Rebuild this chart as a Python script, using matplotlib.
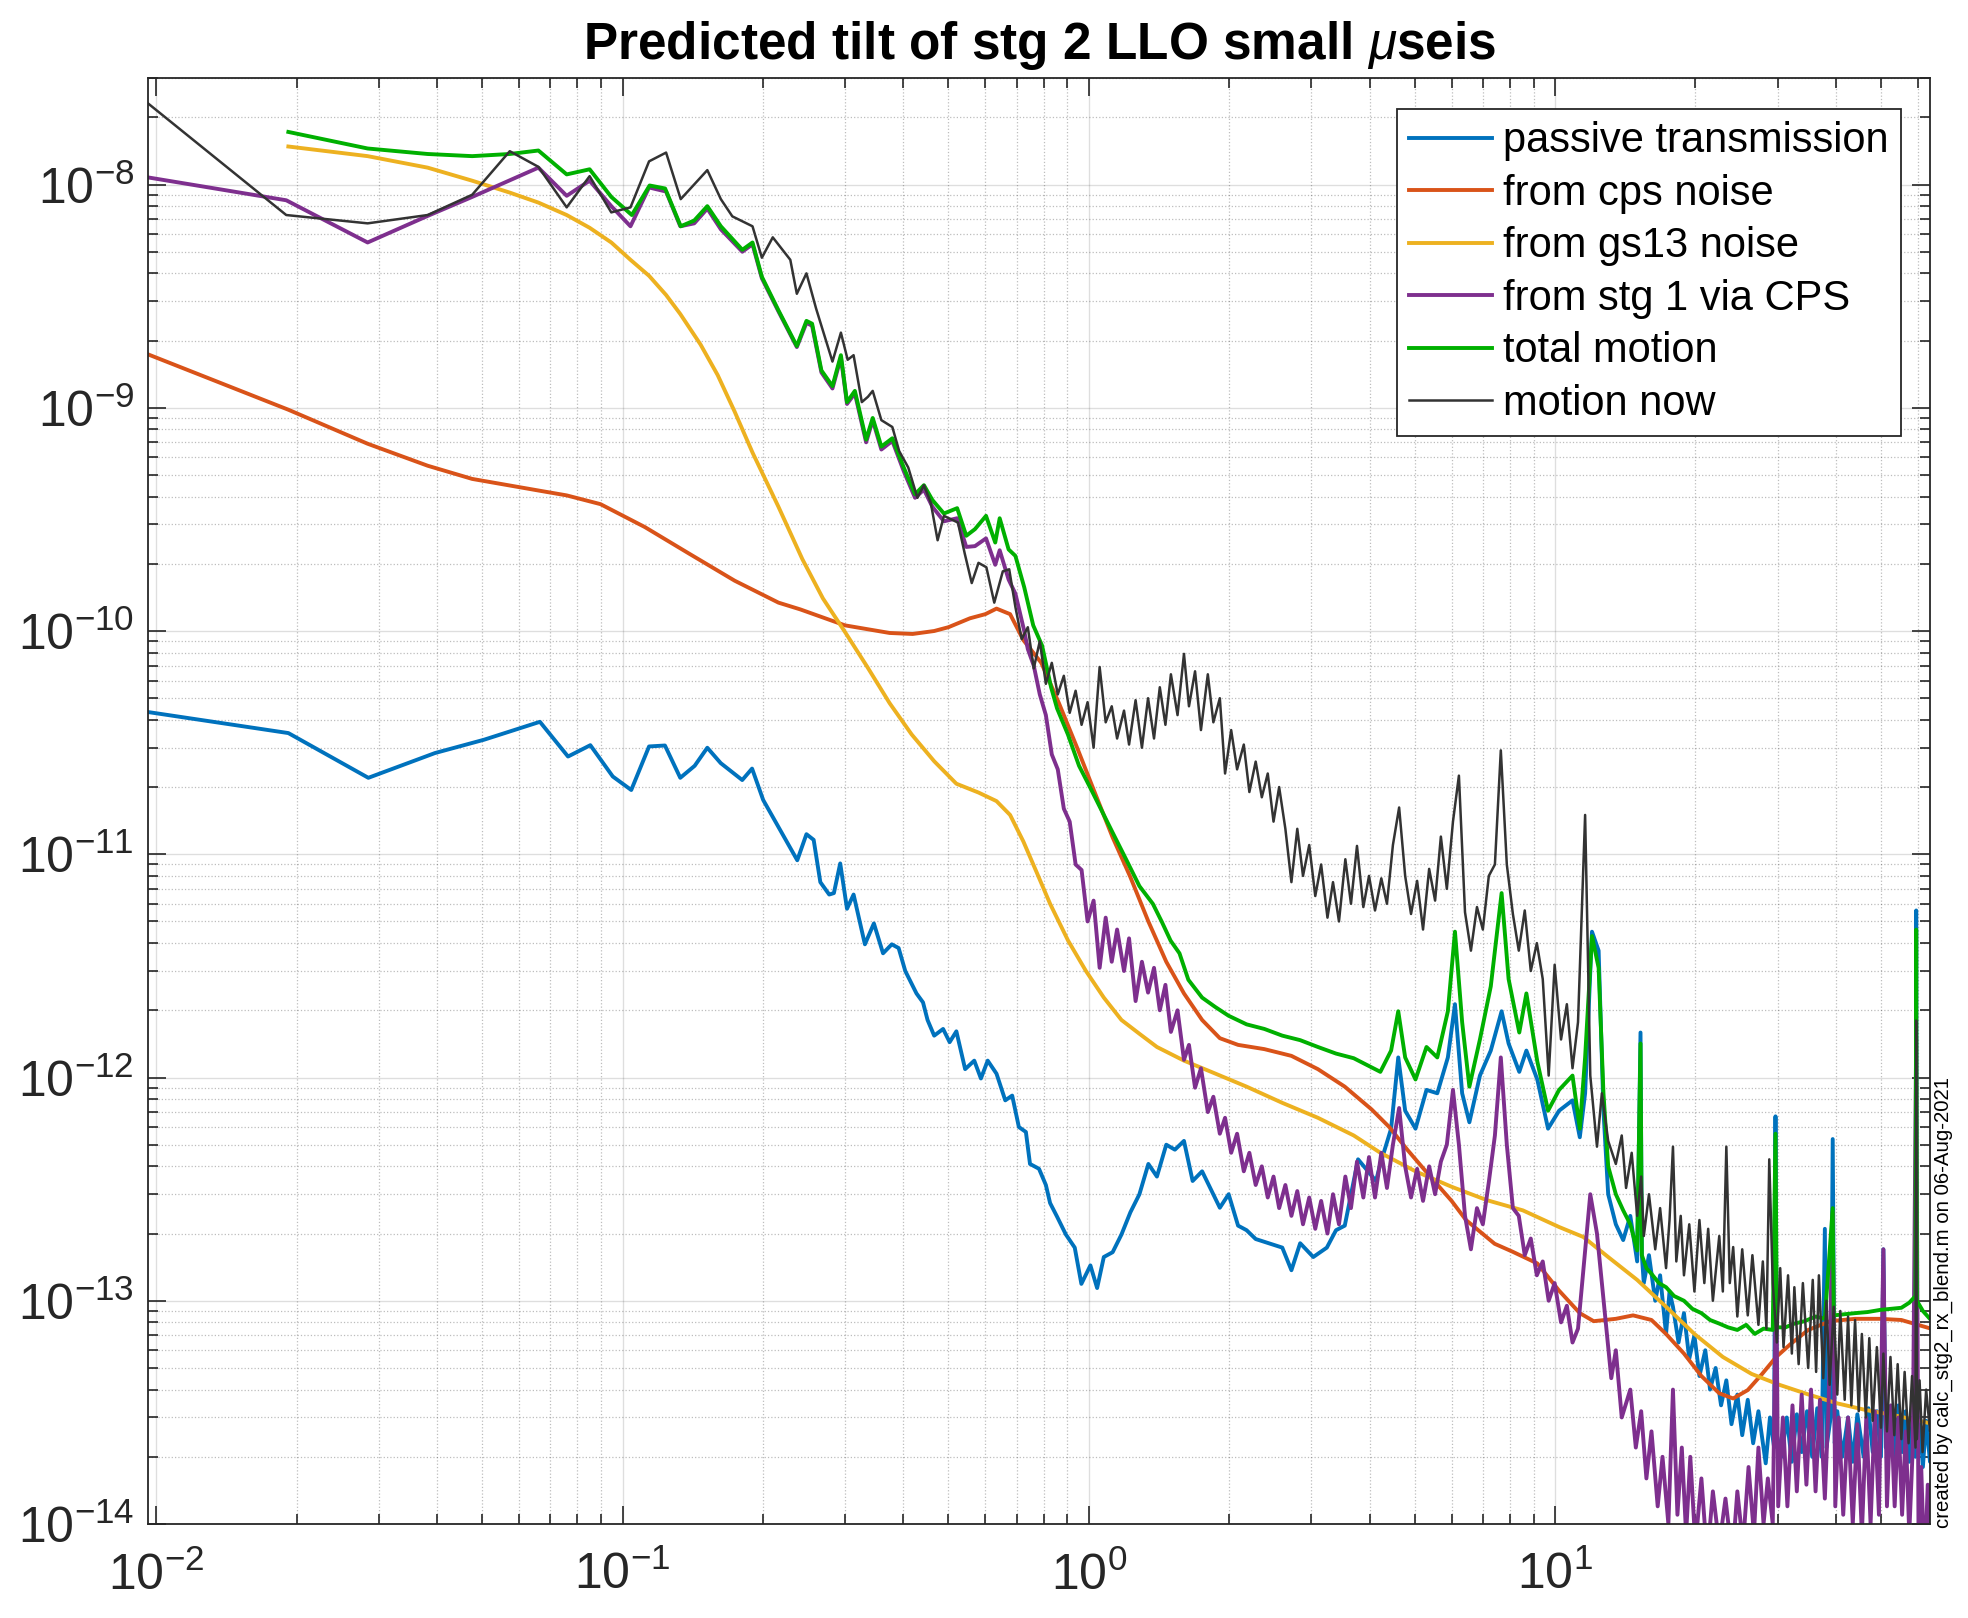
import numpy as np
import matplotlib
matplotlib.use("Agg")
import matplotlib.pyplot as plt
from matplotlib.ticker import LogLocator, LogFormatterMathtext, NullFormatter

plt.rcParams["font.family"] = ["Liberation Sans", "DejaVu Sans"]
plt.rcParams["mathtext.fontset"] = "custom"
plt.rcParams["mathtext.rm"] = "Liberation Sans"
plt.rcParams["mathtext.it"] = "Liberation Sans:italic"
plt.rcParams["mathtext.bf"] = "Liberation Sans:bold"

# ---- data (frequency in Hz, tilt amplitude) ----
passive_f = [
    0.0095, 0.0192, 0.0285, 0.0396, 0.0505, 0.0665, 0.0764, 0.0853, 0.0953, 0.1044,
    0.114, 0.1233, 0.133, 0.1428, 0.152, 0.1624, 0.1806, 0.1896, 0.2003, 0.237,
    0.248, 0.257, 0.2656, 0.2775, 0.284, 0.293, 0.303, 0.313, 0.331, 0.346,
    0.362, 0.378, 0.391, 0.404, 0.427, 0.441, 0.451, 0.466, 0.487, 0.503,
    0.52, 0.543, 0.568, 0.587, 0.607, 0.634, 0.662, 0.685, 0.708, 0.733,
    0.748, 0.782, 0.809, 0.826, 0.855, 0.893, 0.933, 0.964, 1.008, 1.042,
    1.077, 1.125, 1.175, 1.228, 1.284, 1.342, 1.40, 1.466, 1.53, 1.6,
    1.67, 1.75, 1.83, 1.91, 1.995, 2.09, 2.18, 2.28, 2.43, 2.6,
    2.72, 2.84, 3.03, 3.24, 3.39, 3.54, 3.78, 4.13, 4.22, 4.45,
    4.61, 4.77, 5.02, 5.3, 5.59, 5.89, 6.1, 6.32, 6.55, 6.9,
    7.28, 7.68, 7.95, 8.38, 8.68, 9.16, 9.66, 10.2, 10.9, 11.3,
    11.6, 12.0, 12.4, 12.7,
    13.0, 13.5, 14.0, 14.5, 15.0, 15.25, 15.35, 15.5, 15.9, 16.4,
    16.8, 17.3, 17.6, 17.9, 18.4, 18.9, 19.4, 19.9, 20.4, 21.0,
    21.5, 22.1, 22.7, 23.3, 23.9, 24.6, 25.2, 25.9, 26.6, 27.3,
    28.3, 28.9, 29.5, 29.7, 29.9, 30.6, 31.4, 32.2, 33.0, 33.8,
    34.7, 35.6, 36.5, 37.3, 37.9, 38.2, 39.0, 39.4, 39.8, 40.3,
    41.3, 42.5, 43.5, 44.5, 45.9, 47.0, 48.0, 49.0, 50.0, 50.6,
    51.2, 52.5, 53.5, 54.5, 55.5, 56.5, 57.5, 58.5, 59.3, 59.5,
    59.7, 60.5, 61.5, 62.5, 63.7, 64.0,
]
passive_v = [
    4.35e-11, 3.49e-11, 2.2e-11, 2.84e-11, 3.26e-11, 3.92e-11, 2.74e-11, 3.08e-11, 2.23e-11, 1.94e-11,
    3.04e-11, 3.07e-11, 2.2e-11, 2.49e-11, 3.0e-11, 2.56e-11, 2.15e-11, 2.42e-11, 1.75e-11, 9.4e-12,
    1.23e-11, 1.16e-11, 7.5e-12, 6.6e-12, 6.7e-12, 9.1e-12, 5.7e-12, 6.6e-12, 3.95e-12, 4.9e-12,
    3.6e-12, 3.95e-12, 3.8e-12, 3.0e-12, 2.38e-12, 2.17e-12, 1.81e-12, 1.54e-12, 1.65e-12, 1.44e-12,
    1.61e-12, 1.09e-12, 1.19e-12, 9.9e-13, 1.19e-12, 1.04e-12, 7.9e-13, 8.3e-13, 6.0e-13, 5.7e-13,
    4.1e-13, 3.9e-13, 3.3e-13, 2.74e-13, 2.38e-13, 1.98e-13, 1.73e-13, 1.19e-13, 1.44e-13, 1.14e-13,
    1.57e-13, 1.65e-13, 1.98e-13, 2.49e-13, 3.0e-13, 4.1e-13, 3.6e-13, 5.0e-13, 4.75e-13, 5.2e-13,
    3.44e-13, 3.8e-13, 3.14e-13, 2.61e-13, 3.0e-13, 2.17e-13, 2.07e-13, 1.89e-13, 1.81e-13, 1.73e-13,
    1.37e-13, 1.81e-13, 1.57e-13, 1.73e-13, 2.07e-13, 2.17e-13, 4.3e-13, 3.44e-13, 4.1e-13, 5.9e-13,
    1.23e-12, 7.1e-13, 5.9e-13, 8.8e-13, 8.5e-13, 1.23e-12, 2.13e-12, 8.5e-13, 6.3e-13, 1.02e-12,
    1.32e-12, 1.98e-12, 1.42e-12, 1.06e-12, 1.32e-12, 9.8e-13, 5.9e-13, 7.1e-13, 7.9e-13, 5.4e-13,
    8.5e-13, 4.5e-12, 3.7e-12, 7.1e-13,
    3.0e-13, 2.2e-13, 1.87e-13, 2.4e-13, 1.5e-13, 1.59e-12, 1.6e-13, 1.2e-13, 1.6e-13, 1.0e-13,
    1.3e-13, 7.1e-14, 1.1e-13, 9.4e-14, 6.5e-14, 8.8e-14, 5.5e-14, 7.0e-14, 4.6e-14, 6.0e-14,
    4.0e-14, 5.0e-14, 3.4e-14, 4.4e-14, 2.8e-14, 3.8e-14, 2.5e-14, 3.6e-14, 2.3e-14, 3.2e-14,
    1.87e-14, 3.0e-14, 2.2e-14, 6.7e-13, 2.5e-14, 2.0e-14, 3.0e-14, 1.9e-14, 3.1e-14, 2.1e-14,
    3.2e-14, 2.0e-14, 3.3e-14, 2.0e-14, 2.1e-13, 2.2e-14, 3.0e-14, 5.3e-13, 2.3e-14, 3.2e-14,
    2.0e-14, 3.0e-14, 1.9e-14, 3.1e-14, 2.0e-14, 3.3e-14, 2.1e-14, 3.2e-14, 2.0e-14, 1.7e-13,
    2.2e-14, 3.3e-14, 2.0e-14, 3.4e-14, 2.1e-14, 3.2e-14, 1.9e-14, 3.0e-14, 2.0e-14, 5.6e-12,
    2.1e-14, 3.0e-14, 1.8e-14, 2.9e-14, 1.9e-14, 2.5e-14,
]

cps_f = [
    0.0095, 0.0192, 0.0284, 0.0382, 0.0476, 0.066, 0.0759, 0.0897, 0.1117, 0.139,
    0.174, 0.216, 0.2405, 0.30, 0.374, 0.419, 0.466, 0.50, 0.556, 0.60,
    0.634, 0.678, 0.724, 0.791, 0.863, 0.944, 1.03, 1.125, 1.228, 1.342,
    1.466, 1.6, 1.75, 1.91, 2.09, 2.38, 2.72, 3.1, 3.54, 4.04,
    4.41, 4.82, 5.4, 6.0, 6.44, 7.42, 8.1, 9.16, 10.2, 11.3,
    12.1, 13.5, 14.7, 16.1, 17.3, 18.9, 20.6, 22.5, 24.1, 25.9,
    27.8, 29.8, 32.0, 34.9, 38.9, 44.0, 49.8, 55.3, 64.0,
]
cps_v = [
    1.75e-9, 9.8e-10, 6.9e-10, 5.5e-10, 4.8e-10, 4.26e-10, 4.05e-10, 3.7e-10, 2.92e-10, 2.22e-10,
    1.68e-10, 1.34e-10, 1.25e-10, 1.06e-10, 9.8e-11, 9.7e-11, 1.0e-10, 1.04e-10, 1.14e-10, 1.19e-10,
    1.26e-10, 1.19e-10, 9.1e-11, 7.2e-11, 4.75e-11, 3.0e-11, 1.89e-11, 1.19e-11, 7.9e-12, 5.0e-12,
    3.3e-12, 2.38e-12, 1.81e-12, 1.5e-12, 1.4e-12, 1.34e-12, 1.25e-12, 1.09e-12, 9.1e-13, 7.2e-13,
    6.0e-13, 4.75e-13, 3.6e-13, 2.8e-13, 2.3e-13, 1.8e-13, 1.66e-13, 1.47e-13, 1.11e-13, 8.8e-14,
    8.1e-14, 8.3e-14, 8.6e-14, 8.2e-14, 7.1e-14, 5.8e-14, 4.6e-14, 3.85e-14, 3.65e-14, 3.98e-14,
    4.7e-14, 5.6e-14, 6.4e-14, 7.4e-14, 8.1e-14, 8.3e-14, 8.3e-14, 8.2e-14, 7.5e-14,
]

gs13_f = [
    0.0192, 0.0284, 0.0382, 0.0476, 0.0573, 0.066, 0.0759, 0.085, 0.0946, 0.104,
    0.114, 0.124, 0.133, 0.147, 0.16, 0.174, 0.19, 0.216, 0.243, 0.269,
    0.30, 0.335, 0.374, 0.417, 0.466, 0.52, 0.58, 0.634, 0.678, 0.724,
    0.773, 0.826, 0.903, 0.986, 1.077, 1.175, 1.284, 1.40, 1.6, 1.83,
    2.18, 2.6, 3.1, 3.7, 4.22, 5.02, 6.0, 7.15, 8.53, 10.2,
    11.5, 13.0, 15.0, 17.3, 19.9, 22.9, 26.4, 30.3, 35.0, 40.3,
    46.4, 53.4, 64.0,
]
gs13_v = [
    1.48e-8, 1.34e-8, 1.19e-8, 1.04e-8, 9.2e-9, 8.3e-9, 7.3e-9, 6.4e-9, 5.5e-9, 4.6e-9,
    3.9e-9, 3.2e-9, 2.63e-9, 1.92e-9, 1.4e-9, 9.6e-10, 6.3e-10, 3.6e-10, 2.1e-10, 1.4e-10,
    9.9e-11, 6.9e-11, 4.75e-11, 3.44e-11, 2.61e-11, 2.07e-11, 1.89e-11, 1.73e-11, 1.5e-11, 1.14e-11,
    8.3e-12, 6.0e-12, 4.1e-12, 3.0e-12, 2.28e-12, 1.81e-12, 1.57e-12, 1.37e-12, 1.19e-12, 1.06e-12,
    9.1e-13, 7.7e-13, 6.6e-13, 5.5e-13, 4.6e-13, 3.8e-13, 3.24e-13, 2.82e-13, 2.54e-13, 2.14e-13,
    1.93e-13, 1.57e-13, 1.24e-13, 9.4e-14, 7.1e-14, 5.6e-14, 4.7e-14, 4.2e-14, 3.8e-14, 3.47e-14,
    3.24e-14, 3.07e-14, 2.82e-14,
]

# shared mid-band frequency grid for the densely sampled 0.74-12.6 Hz stretch
mid_f = [
    0.74, 0.762, 0.785, 0.809, 0.833, 0.858, 0.884, 0.910, 0.937, 0.965,
    0.994, 1.024, 1.055, 1.087, 1.12, 1.15, 1.19, 1.22, 1.26, 1.30,
    1.34, 1.38, 1.42, 1.46, 1.50, 1.55, 1.60, 1.64, 1.69, 1.74,
    1.80, 1.85, 1.91, 1.96, 2.02, 2.08, 2.15, 2.21, 2.28, 2.35,
    2.42, 2.49, 2.56, 2.64, 2.72, 2.80, 2.88, 2.97, 3.06, 3.15,
    3.25, 3.34, 3.44, 3.55, 3.65, 3.76, 3.88, 3.99, 4.11, 4.24,
    4.36, 4.49, 4.63, 4.77, 4.91, 5.06, 5.21, 5.37, 5.53, 5.69,
    5.86, 6.04, 6.22, 6.41, 6.60, 6.80, 7.00, 7.21, 7.43, 7.65,
    7.88, 8.12, 8.36, 8.61, 8.87, 9.14, 9.41, 9.69, 9.98, 10.3,
    10.6, 10.9, 11.2, 11.6, 11.9, 12.3, 12.6,
]

stg1_lo_f = [
    0.0095, 0.019, 0.0284, 0.038, 0.0476, 0.057, 0.066, 0.0759, 0.085, 0.0946,
    0.104, 0.114, 0.124, 0.133, 0.1425, 0.152, 0.1625, 0.1807, 0.19, 0.199,
    0.216, 0.2365, 0.248, 0.255, 0.267, 0.282, 0.294, 0.303, 0.315, 0.333,
    0.344, 0.359, 0.379, 0.401, 0.424, 0.443, 0.462, 0.489, 0.522, 0.546,
    0.57, 0.602, 0.63, 0.644, 0.673, 0.696, 0.727,
]
stg1_lo_v = [
    1.08e-8, 8.5e-9, 5.5e-9, 7.2e-9, 8.8e-9, 1.04e-8, 1.19e-8, 8.9e-9, 1.04e-8, 8.0e-9,
    6.5e-9, 9.7e-9, 9.3e-9, 6.5e-9, 6.7e-9, 7.8e-9, 6.3e-9, 5.0e-9, 5.4e-9, 3.8e-9,
    2.7e-9, 1.87e-9, 2.4e-9, 2.33e-9, 1.44e-9, 1.22e-9, 1.68e-9, 1.04e-9, 1.16e-9, 7.0e-10,
    8.8e-10, 6.5e-10, 7.1e-10, 5.2e-10, 3.95e-10, 4.3e-10, 3.6e-10, 3.1e-10, 3.2e-10, 2.38e-10,
    2.4e-10, 2.6e-10, 1.98e-10, 2.3e-10, 1.7e-10, 1.47e-10, 1.0e-10,
]
stg1_mid_v = [
    8.3e-11, 7.0e-11, 5.2e-11, 4.2e-11, 2.8e-11, 2.4e-11, 1.6e-11, 1.4e-11, 9.0e-12, 8.5e-12,
    5.0e-12, 6.2e-12, 3.1e-12, 5.2e-12, 3.3e-12, 4.6e-12, 3.0e-12, 4.2e-12, 2.2e-12, 3.3e-12,
    2.4e-12, 3.1e-12, 2.0e-12, 2.6e-12, 1.6e-12, 2.0e-12, 1.2e-12, 1.4e-12, 9.0e-13, 1.1e-12,
    7.0e-13, 8.2e-13, 5.6e-13, 6.6e-13, 4.6e-13, 5.6e-13, 3.8e-13, 4.6e-13, 3.3e-13, 4.0e-13,
    2.9e-13, 3.6e-13, 2.6e-13, 3.3e-13, 2.4e-13, 3.1e-13, 2.2e-13, 2.9e-13, 2.1e-13, 2.8e-13,
    2.0e-13, 3.0e-13, 2.2e-13, 3.6e-13, 2.6e-13, 4.2e-13, 2.9e-13, 4.4e-13, 2.9e-13, 4.6e-13,
    3.2e-13, 5.0e-13, 7.3e-13, 4.0e-13, 2.9e-13, 3.9e-13, 2.8e-13, 4.0e-13, 3.0e-13, 4.2e-13,
    5.0e-13, 8.8e-13, 5.0e-13, 2.4e-13, 1.7e-13, 2.6e-13, 2.2e-13, 3.4e-13, 5.5e-13, 1.23e-12,
    5.0e-13, 2.6e-13, 2.4e-13, 1.6e-13, 1.9e-13, 1.3e-13, 1.5e-13, 1.0e-13, 1.2e-13, 8.0e-14,
    9.5e-14, 6.5e-14, 7.5e-14, 1.68e-13, 3.0e-13, 2.0e-13, 1.2e-13,
]
stg1_hi_f = [
    12.8, 13.2, 13.5, 13.9, 14.5, 14.9, 15.3, 15.7, 16.1, 16.6,
    17.0, 17.5, 17.9, 18.3, 18.7, 19.1, 19.5, 20.0, 20.6, 21.2,
    21.8, 22.5, 23.2, 24.0, 24.6, 25.3, 26.0, 26.7, 27.3, 28.0,
    28.6, 29.3, 29.8, 30.1, 30.8, 31.5, 32.3, 33.0, 33.8, 34.6,
    35.4, 36.2, 37.0, 37.9, 38.6, 39.4, 39.9, 40.6, 41.5, 42.5,
    43.5, 44.5, 45.5, 46.5, 47.5, 48.5, 49.5, 50.6, 51.5, 52.5,
    53.5, 54.5, 55.5, 56.5, 57.5, 58.5, 59.5, 60.2, 61.0, 62.0,
    63.0, 64.0,
]
stg1_hi_v = [
    8.5e-14, 4.5e-14, 6.0e-14, 3.0e-14, 4.0e-14, 2.2e-14, 3.2e-14, 1.6e-14, 2.6e-14, 1.2e-14,
    2.0e-14, 1.0e-14, 4.0e-14, 1.1e-14, 2.2e-14, 9e-15, 2.0e-14, 8e-15, 1.6e-14, 7e-15,
    1.4e-14, 8e-15, 1.3e-14, 7e-15, 1.4e-14, 8e-15, 1.8e-14, 9e-15, 2.2e-14, 1.0e-14,
    1.6e-14, 1.0e-14, 1.42e-13, 1.2e-14, 3.0e-14, 1.2e-14, 3.4e-14, 1.4e-14, 3.8e-14, 1.5e-14,
    4.0e-14, 1.4e-14, 3.6e-14, 1.3e-14, 3.4e-14, 2.5e-13, 1.2e-14, 3.0e-14, 1.1e-14, 3.0e-14,
    1.0e-14, 2.8e-14, 9e-15, 3.0e-14, 1.0e-14, 3.2e-14, 1.1e-14, 1.7e-13, 1.2e-14, 3.4e-14,
    1.2e-14, 3.0e-14, 1.1e-14, 2.6e-14, 9e-15, 2.2e-14, 1.5e-12, 8e-15, 1.8e-14, 6e-15,
    1.5e-14, 9e-15,
]

total_f = [
    0.0192, 0.0284, 0.0382, 0.0476, 0.0573, 0.066, 0.0759, 0.085, 0.0946, 0.1047,
    0.1143, 0.1234, 0.1333, 0.1425, 0.152, 0.1625, 0.1807, 0.19, 0.199, 0.216,
    0.2365, 0.248, 0.255, 0.267, 0.282, 0.294, 0.303, 0.315, 0.333, 0.344,
    0.359, 0.379, 0.401, 0.424, 0.443, 0.462, 0.489, 0.522, 0.546, 0.57,
    0.602, 0.63, 0.644, 0.673, 0.696, 0.727, 0.76, 0.794, 0.83, 0.855,
    0.902, 0.953, 1.008, 1.077, 1.125, 1.202, 1.284, 1.372, 1.433, 1.498,
    1.565, 1.635, 1.75, 1.867, 1.995, 2.18, 2.38, 2.6, 2.84, 3.1,
    3.39, 3.7, 4.04, 4.22, 4.45, 4.61, 4.77, 5.02, 5.3, 5.59,
    5.89, 6.1, 6.32, 6.55, 6.9, 7.28, 7.68, 7.95, 8.38, 8.68,
    9.16, 9.66, 10.2, 10.9, 11.3, 11.6, 12.0, 12.4, 12.7,
    13.0, 13.5, 14.0, 14.5, 15.0, 15.25, 15.35, 15.7, 16.1, 16.7,
    17.3, 18.0, 18.9, 19.7, 20.6, 21.5, 22.5, 23.5, 24.6, 25.7,
    26.8, 28.0, 29.3, 29.7, 29.9, 31.2, 32.6, 34.3, 36.2, 37.9,
    39.4, 39.6, 41.7, 44.0, 46.8, 49.8, 52.5, 55.3, 57.5, 59.3,
    59.5, 59.7, 61.5, 64.0,
]
total_v = [
    1.72e-8, 1.45e-8, 1.37e-8, 1.34e-8, 1.37e-8, 1.42e-8, 1.11e-8, 1.17e-8, 8.8e-9, 7.3e-9,
    9.9e-9, 9.6e-9, 6.5e-9, 6.9e-9, 8.0e-9, 6.5e-9, 5.1e-9, 5.5e-9, 3.86e-9, 2.73e-9,
    1.89e-9, 2.45e-9, 2.38e-9, 1.47e-9, 1.25e-9, 1.72e-9, 1.06e-9, 1.19e-9, 7.2e-10, 9.0e-10,
    6.7e-10, 7.3e-10, 5.4e-10, 4.1e-10, 4.5e-10, 3.86e-10, 3.36e-10, 3.55e-10, 2.67e-10, 2.86e-10,
    3.28e-10, 2.49e-10, 3.2e-10, 2.32e-10, 2.17e-10, 1.57e-10, 1.06e-10, 8.6e-11, 5.6e-11, 4.5e-11,
    3.44e-11, 2.49e-11, 1.98e-11, 1.5e-11, 1.25e-11, 9.5e-12, 7.2e-12, 6.0e-12, 5.0e-12, 4.1e-12,
    3.6e-12, 2.74e-12, 2.28e-12, 2.07e-12, 1.89e-12, 1.73e-12, 1.65e-12, 1.54e-12, 1.47e-12, 1.37e-12,
    1.28e-12, 1.22e-12, 1.11e-12, 1.06e-12, 1.32e-12, 1.98e-12, 1.23e-12, 9.8e-13, 1.37e-12, 1.23e-12,
    1.98e-12, 4.5e-12, 1.77e-12, 9.1e-13, 1.48e-12, 2.56e-12, 6.7e-12, 2.76e-12, 1.59e-12, 2.38e-12,
    1.18e-12, 7.1e-13, 8.8e-13, 1.02e-12, 5.9e-13, 1.23e-12, 4.3e-12, 3.1e-12, 8.5e-13,
    4.0e-13, 3.0e-13, 2.54e-13, 2.2e-13, 1.68e-13, 1.42e-12, 1.6e-13, 1.4e-13, 1.32e-13, 1.2e-13,
    1.15e-13, 1.05e-13, 1.0e-13, 9.2e-14, 8.8e-14, 8.2e-14, 7.9e-14, 7.6e-14, 7.4e-14, 7.8e-14,
    7.1e-14, 7.5e-14, 7.4e-14, 5.6e-13, 7.6e-14, 7.6e-14, 7.9e-14, 8.1e-14, 8.5e-14, 8.3e-14,
    2.6e-13, 8.6e-14, 8.7e-14, 8.8e-14, 8.9e-14, 9.1e-14, 9.2e-14, 9.3e-14, 9.8e-14, 1.05e-13,
    4.6e-12, 1.0e-13, 9.0e-14, 8.2e-14,
]

now_lo_f = [
    0.0095, 0.019, 0.0284, 0.0382, 0.0476, 0.0573, 0.066, 0.0759, 0.085, 0.0946,
    0.104, 0.114, 0.124, 0.1333, 0.152, 0.1625, 0.172, 0.19, 0.199, 0.21,
    0.229, 0.2365, 0.248, 0.26, 0.282, 0.294, 0.304, 0.313, 0.326, 0.336,
    0.344, 0.359, 0.379, 0.392, 0.41, 0.429, 0.443, 0.458, 0.474, 0.489,
    0.524, 0.542, 0.561, 0.58, 0.603, 0.627, 0.654, 0.675, 0.696, 0.718,
]
now_lo_v = [
    2.35e-8, 7.3e-9, 6.7e-9, 7.3e-9, 9.0e-9, 1.41e-8, 1.2e-8, 7.9e-9, 1.09e-8, 7.5e-9,
    7.9e-9, 1.27e-8, 1.39e-8, 8.6e-9, 1.16e-8, 8.6e-9, 7.2e-9, 6.5e-9, 4.7e-9, 5.8e-9,
    4.6e-9, 3.24e-9, 4.0e-9, 2.79e-9, 1.61e-9, 2.17e-9, 1.64e-9, 1.72e-9, 1.06e-9, 1.12e-9,
    1.19e-9, 8.8e-10, 8.2e-10, 6.4e-10, 5.4e-10, 3.95e-10, 4.5e-10, 3.77e-10, 2.55e-10, 3.28e-10,
    3.06e-10, 2.22e-10, 1.64e-10, 2.02e-10, 1.93e-10, 1.34e-10, 1.85e-10, 1.89e-10, 1.28e-10, 9.2e-11,
]
now_mid_v = [
    1.04e-10, 6.8e-11, 9.0e-11, 5.8e-11, 7.2e-11, 5.2e-11, 6.3e-11, 4.3e-11, 5.4e-11, 3.8e-11,
    4.8e-11, 3.0e-11, 6.9e-11, 3.9e-11, 4.6e-11, 3.3e-11, 4.4e-11, 3.1e-11, 4.9e-11, 3.0e-11,
    5.0e-11, 3.3e-11, 5.6e-11, 3.8e-11, 6.4e-11, 4.2e-11, 7.9e-11, 4.6e-11, 6.6e-11, 3.6e-11,
    6.4e-11, 3.9e-11, 5.0e-11, 2.3e-11, 3.6e-11, 2.4e-11, 3.1e-11, 1.9e-11, 2.6e-11, 1.8e-11,
    2.3e-11, 1.4e-11, 2.0e-11, 1.3e-11, 7.5e-12, 1.3e-11, 8.0e-12, 1.1e-11, 6.5e-12, 9.0e-12,
    5.2e-12, 7.5e-12, 5.0e-12, 9.5e-12, 6.0e-12, 1.09e-11, 5.8e-12, 8.0e-12, 5.6e-12, 7.8e-12,
    6.0e-12, 1.1e-11, 1.62e-11, 8.0e-12, 5.4e-12, 7.6e-12, 4.6e-12, 8.6e-12, 6.2e-12, 1.2e-11,
    7.0e-12, 1.4e-11, 2.25e-11, 5.5e-12, 3.7e-12, 5.8e-12, 4.6e-12, 8.0e-12, 9.0e-12, 2.92e-11,
    9.0e-12, 5.4e-12, 3.7e-12, 5.6e-12, 3.0e-12, 4.0e-12, 2.76e-12, 1.02e-12, 3.2e-12, 1.48e-12,
    2.13e-12, 1.1e-12, 1.77e-12, 1.5e-11, 1.02e-12, 4.9e-13, 8.5e-13,
]
now_hi_f = [
    13.0, 13.5, 13.9, 14.2, 14.6, 15.0, 15.3, 15.5, 15.9, 16.4, 16.8,
    17.3, 17.6, 17.9, 18.2, 18.6, 18.9, 19.4, 19.9, 20.4, 20.9,
    21.3, 21.8, 22.5, 22.9, 23.3, 23.7, 24.1, 24.6, 25.2, 25.9,
    26.5, 27.3, 27.9, 28.4, 28.8, 29.3, 29.9, 30.4, 30.9, 31.6,
    32.2, 32.6, 33.3, 34.0, 34.9, 35.7, 36.3, 36.8, 37.6, 38.2,
    38.8, 39.6, 40.3, 40.9, 41.8, 42.5, 43.2, 44.0, 44.8, 45.5,
    46.4, 47.2, 48.0, 49.0, 50.0, 50.6, 51.5, 52.4, 53.4, 54.3,
    55.3, 56.2, 57.3, 58.3, 59.3, 59.5, 59.7, 60.5, 61.4, 62.5,
    63.7, 64.0,
]
now_hi_v = [
    5.2e-13, 4.1e-13, 5.5e-13, 3.2e-13, 4.6e-13, 2.4e-13, 3.6e-13, 1.95e-13, 3.0e-13, 1.7e-13, 2.6e-13,
    1.4e-13, 2.3e-13, 4.9e-13, 1.5e-13, 2.4e-13, 1.3e-13, 2.2e-13, 1.1e-13, 2.3e-13, 1.2e-13,
    2.1e-13, 1.0e-13, 1.95e-13, 1.1e-13, 4.9e-13, 1.2e-13, 1.74e-13, 8.5e-14, 1.7e-13, 8.6e-14,
    1.6e-13, 7.8e-14, 1.5e-13, 7.5e-14, 4.3e-13, 1.2e-13, 6.5e-14, 1.4e-13, 6.2e-14, 1.3e-13,
    5.8e-14, 1.15e-13, 5.2e-14, 1.2e-13, 5.0e-14, 1.24e-13, 4.8e-14, 1.3e-13, 4.5e-14, 1.0e-13,
    4.2e-14, 9.4e-14, 3.8e-14, 9.0e-14, 3.6e-14, 8.5e-14, 3.4e-14, 8.2e-14, 3.2e-14, 7.1e-14,
    3.0e-14, 6.8e-14, 2.9e-14, 6.2e-14, 2.7e-14, 5.8e-14, 2.6e-14, 5.6e-14, 2.5e-14, 5.2e-14,
    2.4e-14, 4.8e-14, 2.3e-14, 4.6e-14, 2.2e-14, 1.8e-12, 2.4e-14, 4.4e-14, 2.1e-14, 4.0e-14,
    2.6e-14, 3.2e-14,
]

stg1_f = stg1_lo_f + mid_f + stg1_hi_f
stg1_v = stg1_lo_v + stg1_mid_v + stg1_hi_v
now_f = now_lo_f + mid_f + now_hi_f
now_v = now_lo_v + now_mid_v + now_hi_v

labels = ["passive transmission", "from cps noise", "from gs13 noise",
          "from stg 1 via CPS", "total motion", "motion now"]
colors = ["#0072BD", "#D95319", "#EDB120", "#7E2F8E", "#00B000", "#333333"]
widths = [2.8, 2.8, 2.8, 2.8, 2.8, 1.8]

# ---- figure ----
W, H = 1968, 1618
fig = plt.figure(figsize=(W / 100, H / 100), dpi=100)
ax = fig.add_axes([148 / W, 1 - 1524 / H, 1782 / W, 1446 / H])

series = [(passive_f, passive_v), (cps_f, cps_v), (gs13_f, gs13_v),
          (stg1_f, stg1_v), (total_f, total_v), (now_f, now_v)]
for (f, v), c, lw, lab in zip(series, colors, widths, labels):
    ax.loglog(f, v, color=c, lw=lw, label=lab)

ax.set_xlim(0.0096, 63.7)
ax.set_ylim(1e-14, 3e-8)

for axis, n in ((ax.xaxis, 10), (ax.yaxis, 20)):
    axis.set_major_locator(LogLocator(base=10, numticks=n))
    axis.set_minor_locator(LogLocator(base=10, subs=np.arange(2, 10), numticks=200))
    axis.set_major_formatter(LogFormatterMathtext())
    axis.set_minor_formatter(NullFormatter())

ax.tick_params(which="both", direction="in", top=True, right=True,
               color="#262626", width=1.2, labelsize=36, labelcolor="#262626")
ax.tick_params(which="major", length=13)
ax.tick_params(which="minor", length=7)
ax.tick_params(axis="x", which="major", pad=20)
ax.tick_params(axis="y", which="major", pad=10)

ax.grid(True, which="major", color="#262626", alpha=0.15, lw=1.0, ls="-")
ax.grid(True, which="minor", color="#262626", alpha=0.3, lw=0.9, ls=":")
ax.set_axisbelow(True)
for sp in ax.spines.values():
    sp.set_color("#262626")
    sp.set_linewidth(1.3)

leg = ax.legend(loc="upper right", bbox_to_anchor=(0.9837, 0.9786),
                borderaxespad=0, fontsize=30, frameon=True, fancybox=False,
                framealpha=1, edgecolor="#262626", handlelength=2.0,
                handletextpad=0.25, labelspacing=0.3, borderpad=0.3)
leg.get_frame().set_linewidth(1.3)

fig.text(0.528, 1 - 46 / H, r"Predicted tilt of stg 2 LLO small $\mu$seis",
         ha="center", va="center", fontsize=37, fontweight="bold")
fig.text(1943 / W, 1 - 1528 / H, "created by calc_stg2_rx_blend.m on 06-Aug-2021",
         rotation=90, ha="center", va="bottom", fontsize=14.7)

fig.savefig("out.png", dpi=100)
